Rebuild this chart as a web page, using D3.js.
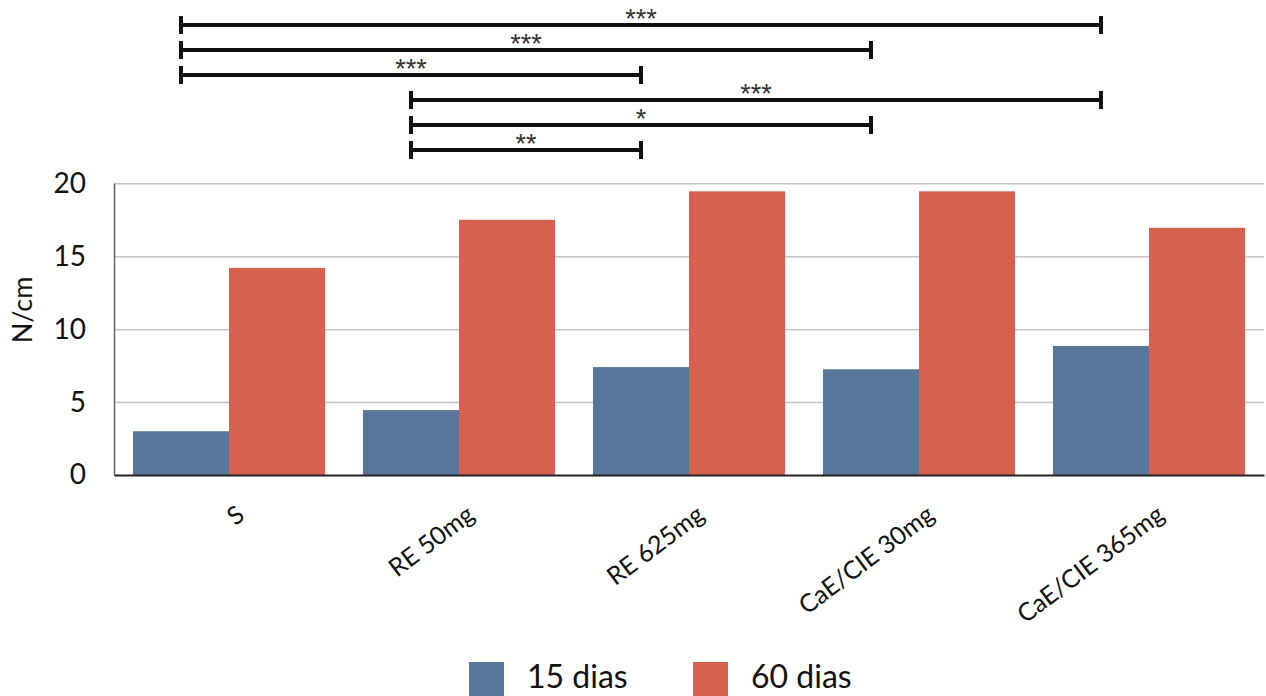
<!DOCTYPE html>
<html>
<head>
<meta charset="utf-8">
<script src="https://cdn.jsdelivr.net/npm/d3@7/dist/d3.min.js"></script>
<style>
  html, body { margin: 0; padding: 0; background: #fff; }
  svg { display: block; }
</style>
</head>
<body>
<svg id="chart" width="1266" height="696"></svg>
<script>
// ---- data ----
const categories = ["S", "RE 50mg", "RE 625mg", "CaE/CIE 30mg", "CaE/CIE 365mg"];
const seriesNames = ["15 dias", "60 dias"];
const values15 = [3.0, 4.45, 7.4, 7.25, 8.85];
const values60 = [14.2, 17.5, 19.45, 19.45, 16.95];
const yTicks = [0, 5, 10, 15, 20];
const brackets = [
  { from: "S", to: "CaE/CIE 365mg", label: "***" },
  { from: "S", to: "CaE/CIE 30mg", label: "***" },
  { from: "S", to: "RE 625mg", label: "***" },
  { from: "RE 50mg", to: "CaE/CIE 365mg", label: "***" },
  { from: "RE 50mg", to: "CaE/CIE 30mg", label: "*" },
  { from: "RE 50mg", to: "RE 625mg", label: "**" }
];

// ---- layout ----
const W = 1266, H = 696;
const plot = { left: 114, right: 1264, top: 183.3, bottom: 475 };
const colors = { "15 dias": "#57769a", "60 dias": "#d8604f" };
const gillFont = "Lato, 'Open Sans', sans-serif";

const svg = d3.select("#chart");

const x0 = d3.scaleBand().domain(categories).range([plot.left, plot.right])
  .paddingInner(0.165).paddingOuter(0.0826);
const x1 = d3.scaleBand().domain(seriesNames).range([0, x0.bandwidth()]).padding(0);
const y = d3.scaleLinear().domain([0, 20]).range([plot.bottom, plot.top]);

// gridlines
svg.append("g")
  .attr("transform", `translate(${plot.left},0)`)
  .call(d3.axisLeft(y).tickValues(yTicks.filter(d => d > 0)).tickSize(-(plot.right - plot.left)).tickFormat(""))
  .call(g => g.select(".domain").remove())
  .call(g => g.selectAll("line").attr("stroke", "#c4c4c4").attr("stroke-width", 1.5));

// y axis labels
svg.append("g")
  .attr("transform", `translate(${plot.left},0)`)
  .call(d3.axisLeft(y).tickValues(yTicks).tickSize(0).tickPadding(28))
  .call(g => g.select(".domain").attr("stroke", "#666").attr("stroke-width", 1.5))
  .call(g => g.selectAll("text").attr("font-family", gillFont).attr("font-size", 28).attr("fill", "#111"));

// bars
const rows = categories.map((c, i) => ({ cat: c, vals: [
  { s: "15 dias", v: values15[i] }, { s: "60 dias", v: values60[i] }] }));

const groups = svg.append("g").selectAll("g").data(rows).join("g")
  .attr("transform", d => `translate(${x0(d.cat)},0)`);
groups.selectAll("rect").data(d => d.vals).join("rect")
  .attr("x", d => x1(d.s))
  .attr("y", d => y(d.v))
  .attr("width", x1.bandwidth())
  .attr("height", d => y(0) - y(d.v))
  .attr("fill", d => colors[d.s]);

// x baseline
svg.append("g")
  .attr("transform", `translate(0,${plot.bottom})`)
  .call(d3.axisBottom(x0).tickSize(0).tickFormat(""))
  .call(g => g.select(".domain").attr("stroke", "#222").attr("stroke-width", 2));

// category labels
svg.append("g").selectAll("text").data(categories).join("text")
  .attr("text-anchor", "end")
  .attr("transform", d => `translate(${x0(d) + x0.bandwidth() / 2 + 17},518) rotate(-37)`)
  .attr("font-family", gillFont)
  .attr("font-size", 25)
  .attr("fill", "#111")
  .text(d => d);

// y axis title
svg.append("text")
  .attr("transform", `translate(32,310) rotate(-90)`)
  .attr("text-anchor", "middle")
  .attr("font-family", gillFont)
  .attr("font-size", 27)
  .attr("fill", "#111")
  .text("N/cm");

// significance brackets
const bx = c => x0(c) + x1("15 dias") + x1.bandwidth() / 2;
const rowY = d3.scalePoint().domain(d3.range(brackets.length)).range([25, 150]);
const bg = svg.append("g").selectAll("g").data(brackets).join("g")
  .attr("transform", (d, i) => `translate(0,${rowY(i)})`);
bg.append("line")
  .attr("x1", d => bx(d.from)).attr("x2", d => bx(d.to))
  .attr("y1", 0).attr("y2", 0)
  .attr("stroke", "#111").attr("stroke-width", 4);
bg.append("line")
  .attr("x1", d => bx(d.from)).attr("x2", d => bx(d.from))
  .attr("y1", -9).attr("y2", 9)
  .attr("stroke", "#111").attr("stroke-width", 4);
bg.append("line")
  .attr("x1", d => bx(d.to)).attr("x2", d => bx(d.to))
  .attr("y1", -9).attr("y2", 9)
  .attr("stroke", "#111").attr("stroke-width", 4);
bg.append("text")
  .attr("x", d => (bx(d.from) + bx(d.to)) / 2)
  .attr("y", 3)
  .attr("text-anchor", "middle")
  .attr("font-family", "'Liberation Sans', Arial, sans-serif")
  .attr("font-size", 27)
  .attr("fill", "#333")
  .text(d => d.label);

// legend
const legendX = d3.scaleOrdinal().domain(seriesNames).range([469, 693]);
const lg = svg.append("g").selectAll("g").data(seriesNames).join("g")
  .attr("transform", d => `translate(${legendX(d)},662)`);
lg.append("rect").attr("width", 35).attr("height", 34).attr("fill", d => colors[d]);
lg.append("text").attr("x", 58).attr("y", 26)
  .attr("font-family", gillFont).attr("font-size", 32).attr("fill", "#111")
  .text(d => d);
</script>
</body>
</html>
